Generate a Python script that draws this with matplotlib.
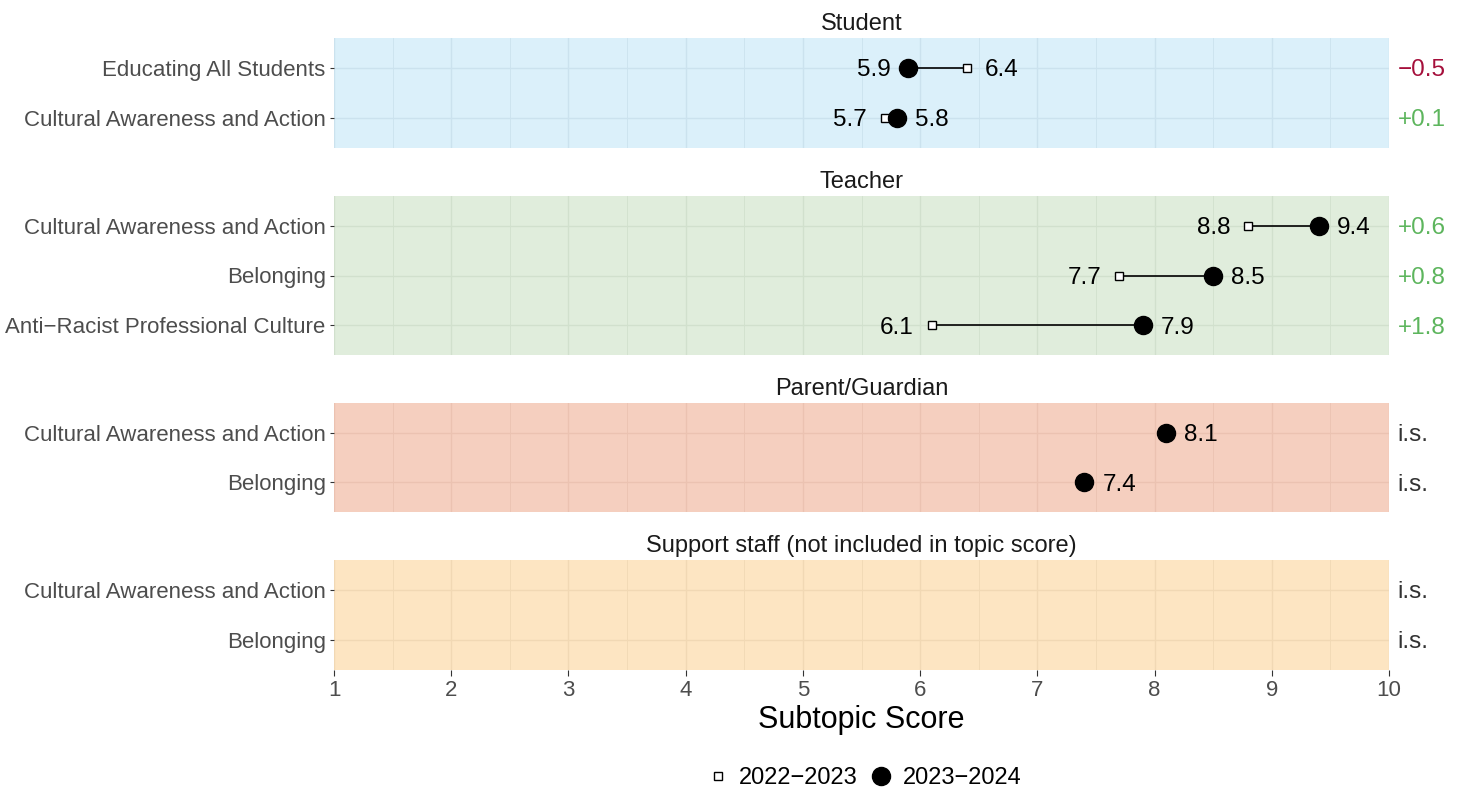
import matplotlib.pyplot as plt
import matplotlib.transforms as mtransforms
from matplotlib.lines import Line2D

plt.rcParams['font.family'] = ['Liberation Sans', 'DejaVu Sans']

# panels, top to bottom
groups = ['Student', 'Teacher', 'Parent/Guardian', 'Support staff (not included in topic score)']
labels = [
    ['Educating All Students', 'Cultural Awareness and Action'],
    ['Cultural Awareness and Action', 'Belonging', 'Anti\u2212Racist Professional Culture'],
    ['Cultural Awareness and Action', 'Belonging'],
    ['Cultural Awareness and Action', 'Belonging'],
]
score_2022 = [[6.4, 5.7], [8.8, 7.7, 6.1], [None, None], [None, None]]
score_2023 = [[5.9, 5.8], [9.4, 8.5, 7.9], [8.1, 7.4], [None, None]]
change = [['\u22120.5', '+0.1'], ['+0.6', '+0.8', '+1.8'], ['i.s.', 'i.s.'], ['i.s.', 'i.s.']]
change_col = [['#A50F3B', '#5DB55D'], ['#5DB55D', '#5DB55D', '#5DB55D'],
              ['#333333', '#333333'], ['#333333', '#333333']]
fills = ['#DBF0FA', '#E0EDDC', '#F5CFBF', '#FDE5C2']
grids = ['#CBE2EE', '#D1E0CD', '#EBC2B1', '#F1D8B4']

W, H = 1465, 791
fig = plt.figure(figsize=(W / 100, H / 100), dpi=100)

# panel pixel boxes (top, bottom)
boxes = [(38, 148), (196, 355), (403, 512), (560, 670)]
x0, x1 = 334, 1389

for k, grp in enumerate(groups):
    top, bot = boxes[k]
    ax = fig.add_axes([x0 / W, 1 - bot / H, (x1 - x0) / W, (bot - top) / H])
    n = len(labels[k])
    ys = [n - i for i in range(n)]
    ax.set_facecolor(fills[k])
    ax.set_xlim(1, 10)
    ax.set_ylim(0.4, n + 0.6)
    for s in ax.spines.values():
        s.set_visible(False)

    # grid
    for xv in range(1, 11):
        ax.axvline(xv, color=grids[k], lw=1.0, zorder=0)
    for xv in [1.5 + i for i in range(9)]:
        ax.axvline(xv, color=grids[k], lw=0.6, zorder=0)
    for yv in ys:
        ax.axhline(yv, color=grids[k], lw=1.0, zorder=0)

    ax.set_yticks(ys)
    ax.set_yticklabels(labels[k], fontsize=16, color='#4D4D4D', va='center_baseline')
    ax.tick_params(axis='y', length=3, color='#333333', pad=3)
    ax.set_xticks(range(1, 11))
    if k < len(groups) - 1:
        ax.tick_params(axis='x', length=0, labelbottom=False)
    else:
        ax.tick_params(axis='x', length=4, color='#333333', labelsize=16,
                       labelcolor='#4D4D4D', pad=3)
        ax.set_xlabel('Subtopic Score', fontsize=22, labelpad=3)

    ax.set_title(grp, fontsize=17, color='#1A1A1A', pad=6)

    tr = mtransforms.blended_transform_factory(ax.transAxes, ax.transData)
    for i, yv in enumerate(ys):
        a = score_2022[k][i]
        b = score_2023[k][i]
        if a is not None and b is not None:
            ax.plot([a, b], [yv, yv], color='black', lw=1.2, zorder=2)
        if a is not None:
            ax.plot(a, yv, marker='s', ms=6, mfc='white', mec='black', mew=1.0,
                    zorder=3, clip_on=False)
        if b is not None:
            ax.plot(b, yv, marker='o', ms=13, color='black', zorder=4, clip_on=False)
        vals = [v for v in (a, b) if v is not None]
        if len(vals) == 2:
            lo, hi = min(vals), max(vals)
            ax.annotate(f'{lo:.1f}', (lo, yv), xytext=(-13, 0), textcoords='offset points',
                        ha='right', va='center_baseline', fontsize=17.5)
            ax.annotate(f'{hi:.1f}', (hi, yv), xytext=(13, 0), textcoords='offset points',
                        ha='left', va='center_baseline', fontsize=17.5)
        elif len(vals) == 1:
            ax.annotate(f'{vals[0]:.1f}', (vals[0], yv), xytext=(13, 0),
                        textcoords='offset points', ha='left', va='center_baseline',
                        fontsize=17.5)
        ax.text(1.008, yv, change[k][i], transform=tr, ha='left', va='center_baseline',
                fontsize=17.5, color=change_col[k][i])

handles = [
    Line2D([], [], marker='s', ms=6, mfc='white', mec='black', mew=1.0, ls='none'),
    Line2D([], [], marker='o', ms=13, color='black', ls='none'),
]
fig.legend(handles, ['2022\u22122023', '2023\u22122024'], loc='center',
           bbox_to_anchor=((700 + 1025) / 2 / W, 1 - 778 / H), ncol=2, frameon=False,
           fontsize=17, handletextpad=0.3, columnspacing=0.4, handlelength=1.2)

fig.savefig('out.png', dpi=100)
